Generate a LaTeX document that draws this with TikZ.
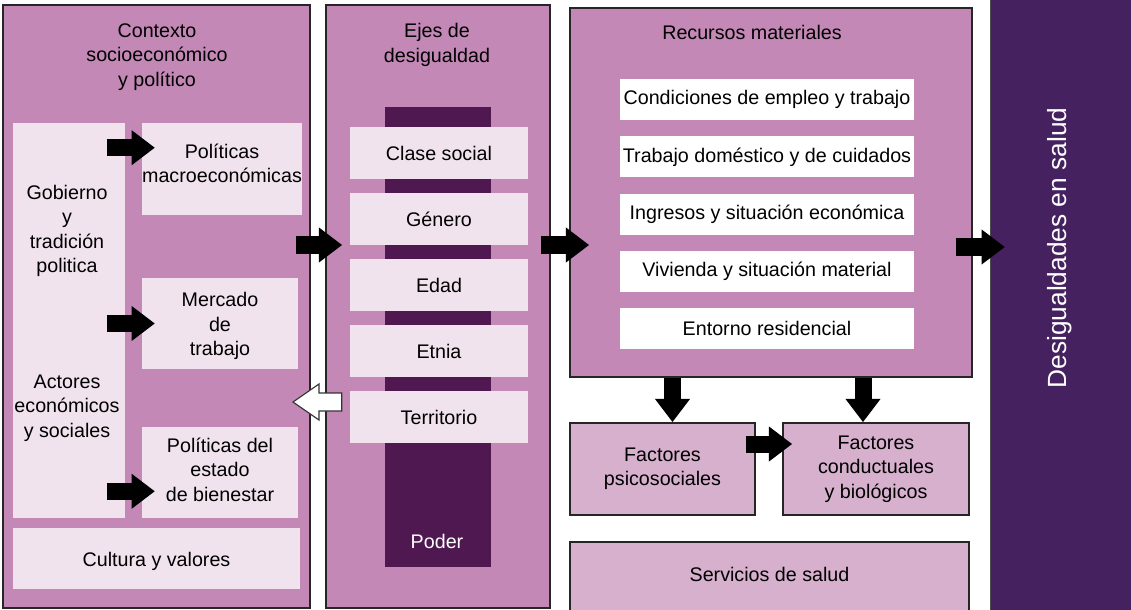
\documentclass[tikz,border=0pt]{standalone}
\usepackage{fontspec}
\setmainfont{Liberation Sans}
\usetikzlibrary{
  positioning,
  arrows.meta,
  calc,
  fit
}
\definecolor{mauve}{HTML}{C388B6}
\definecolor{blush}{HTML}{F1E3EE}
\definecolor{lilac}{HTML}{D6B0CD}
\definecolor{plum}{HTML}{501850}
\definecolor{aubergine}{HTML}{45225F}

\begin{document}
\begin{tikzpicture}[x=0.025cm, y=-0.025cm,
  every node/.style={font=\fontsize{14}{17.4}\selectfont, align=center},
  txt/.style={yshift=-2pt},
  panel/.style={draw=black!85, line width=1.4pt, fill=mauve, inner sep=0pt},
  pale/.style={fill=blush, inner sep=0pt},
  whitebox/.style={fill=white, inner sep=0pt},
  factor/.style={draw=black!85, line width=1.4pt, fill=lilac, inner sep=0pt},
  fat/.style={line width=12.1pt, -{Triangle[length=16.4pt, width=24.9pt, line width=0pt]}},
  hollow/.style={draw=black!80, line width=0.8pt, fill=white}]

  % Page
  \fill[white] (0,0) rectangle (1131,610);
  \useasboundingbox (0,0) rectangle (1131,610);

  % Context
  \node[panel, fit={(3,5) (310,608)}] (ctx) {};
  \node[txt] (ctxtitle) at (157,54) {Contexto\\socioeconómico\\y político};
  \node[pale, fit={(13,123) (125,518)}] (gob) {};
  \node[txt] (gobtxt) at (67,228) {Gobierno\\y\\tradición\\politica};
  \node[txt] (actores) at (67,405) {Actores\\económicos\\y sociales};
  \node[pale, fit={(142,123) (302,215)}, label={[yshift=4pt]center:{Políticas\\macroeconómicas}}] (macro) {};
  \node[pale, fit={(142,278) (298,369)}, label={[txt]center:{Mercado\\de\\trabajo}}] (mercado) {};
  \node[pale, fit={(142,427) (298,518)}, label={[yshift=2pt]center:{Políticas del\\estado\\de bienestar}}] (bienestar) {};
  \node[pale, fit={(13,528) (300,589)}, label={[txt]center:Cultura y valores}] (cultura) {};

  % Axes of inequality
  \node[panel, fit={(326,5) (550,608)}] (ejes) {};
  \node[txt] (ejestitle) at (437,42) {Ejes de\\desigualdad};
  \node[fill=plum, inner sep=0pt, fit={(385,107) (491,567)}] (poder) {};
  \node[text=white] (podertxt) at (437,541) {Poder};
  \foreach \lbl [count=\i] in {Clase social, Género, Edad, Etnia, Territorio}
    \node[pale, fit={(350,{127+66*(\i-1)}) (528,{179+66*(\i-1)})}, label={center:\lbl}] (eje\i) {};

  % Material resources
  \node[panel, fit={(570,8) (972,377)}] (recursos) {};
  \node (rectitle) at (752,32) {Recursos materiales};
  \foreach \lbl [count=\i] in {Condiciones de empleo y trabajo, Trabajo doméstico y de cuidados,
      Ingresos y situación económica, Vivienda y situación material, Entorno residencial}
    \node[whitebox, fit={(620,{79+57.3*(\i-1)}) (914,{120+57.3*(\i-1)})}, label={center:\lbl}] (rec\i) {};

  % Factors
  \node[factor, fit={(570,423) (755,515)}, label={center:{Factores\\psicosociales}}] (psico) {};
  \node[factor, fit={(783,423) (969,515)}, label={center:{Factores\\conductuales\\y biológicos}}] (conduct) {};
  \node[factor, fit={(570,542) (969,615)}] (servicios) {};
  \node[txt] (servtxt) at ($(servicios.north)+(0,31)$) {Servicios de salud};

  % Outcome
  \node[draw=black!70, fill=aubergine, inner sep=0pt, fit={(990,-5) (1136,615)}] (salud) {};
  \node[rotate=90, text=white, font=\fontsize{18.7}{22}\selectfont] (saludtxt) at (1060,248) {Desigualdades en salud};

  % Arrows
  \draw[fat] ($(gob.east|-macro.north)+(-18,25)$) -- ($(macro.north west)+(13,25)$);
  \draw[fat] ($(gob.east|-mercado.west)+(-18,0)$) -- ($(mercado.west)+(13,0)$);
  \draw[fat] ($(gob.east|-bienestar.south)+(-18,-27)$) -- ($(bienestar.south west)+(13,-27)$);

  \coordinate (row) at (0,245);
  \draw[fat] ($(ctx.east|-row)+(-15,0)$) -- ($(ejes.west|-row)+(17,0)$);
  \draw[fat] ($(ejes.east|-row)+(-10,0)$) -- ($(recursos.west|-row)+(20,0)$);
  \draw[fat] ($(recursos.east|-row)+(-17,2)$) -- ($(salud.west|-row)+(15,2)$);

  \coordinate (p) at ($(psico.north)+(10,0)$);
  \coordinate (c) at ($(conduct.north)+(-13,0)$);
  \draw[fat] (p|-recursos.south) -- (p);
  \draw[fat] (c|-recursos.south) -- (c);
  \draw[fat] ($(psico.north east)+(-10,22)$) -- ($(conduct.north west)+(10,22)$);

  % Feedback arrow (hollow)
  \coordinate (back) at ($(eje5.west)+(-8,-15)$);
  \coordinate (tip) at ($(ctx.east|-back)+(-18,0)$);
  \draw[hollow] (tip) -- ($(tip)+(26,-18)$) -- ($(tip)+(26,-9)$) -- ($(back)+(0,-9)$)
    -- ($(back)+(0,9)$) -- ($(tip)+(26,9)$) -- ($(tip)+(26,18)$) -- cycle;
\end{tikzpicture}
\end{document}
